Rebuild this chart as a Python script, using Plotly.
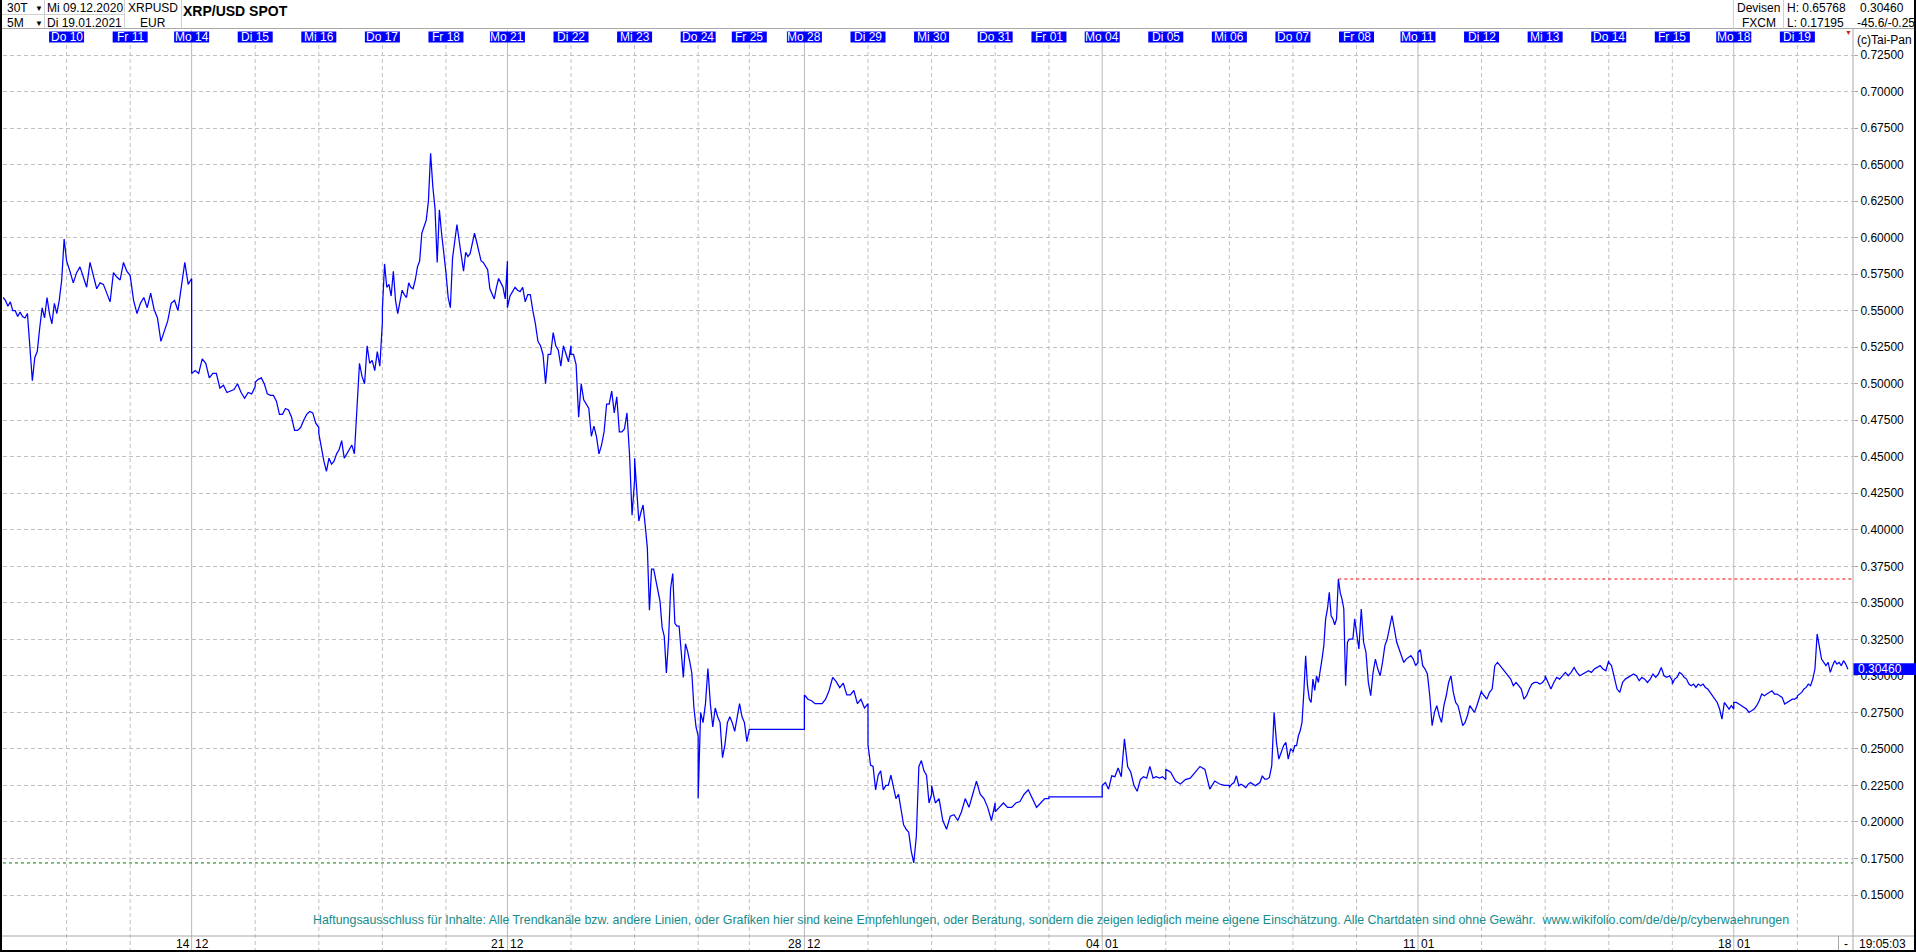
import plotly.graph_objects as go

# ---------------- data ----------------
day_names = ["Mi", "Do", "Fr", "Mo", "Di", "Mi", "Do", "Fr", "Mo", "Di", "Mi", "Do", "Fr", "Mo", "Di",
             "Mi", "Do", "Fr", "Mo", "Di", "Mi", "Do", "Fr", "Mo", "Di", "Mi", "Do", "Fr", "Mo", "Di"]
day_dates = ["09.12", "10.12", "11.12", "14.12", "15.12", "16.12", "17.12", "18.12", "21.12", "22.12",
             "23.12", "24.12", "25.12", "28.12", "29.12", "30.12", "31.12", "01.01", "04.01", "05.01",
             "06.01", "07.01", "08.01", "11.01", "12.01", "13.01", "14.01", "15.01", "18.01", "19.01"]
# hours of 5-minute bars in each session (holidays are shorter, last day ends 19:05)
day_hours = [24, 24, 23.2, 24, 24, 24, 24, 23.2, 24, 24, 24, 19.3, 20.8, 24, 24,
             24, 20.3, 20.1, 24, 24, 24, 24, 23.2, 24, 24, 24, 24, 23.2, 24, 19.08]

p_0912 = [0.559, 0.557, 0.553, 0.556, 0.550, 0.550, 0.546, 0.549, 0.546, 0.545, 0.548, 0.527, 0.502,
          0.518, 0.522, 0.538, 0.552, 0.545, 0.559, 0.548, 0.541, 0.555, 0.548, 0.557, 0.571, 0.599, 0.584]
p_1012 = [0.584, 0.577, 0.569, 0.576, 0.580, 0.573, 0.566, 0.583, 0.573, 0.565, 0.569, 0.568, 0.562,
          0.556, 0.576, 0.573, 0.571, 0.583, 0.577, 0.574]
p_1112 = [0.574, 0.557, 0.548, 0.555, 0.559, 0.552, 0.562, 0.551, 0.545, 0.529, 0.536, 0.543, 0.555,
          0.557, 0.550, 0.566, 0.583, 0.568, 0.572]
p_1412 = [0.507, 0.509, 0.507, 0.517, 0.514, 0.504, 0.507, 0.507, 0.497, 0.499, 0.494, 0.495, 0.496,
          0.500, 0.494, 0.490, 0.494, 0.493, 0.498]
p_1512 = [0.501, 0.503, 0.504, 0.500, 0.493, 0.492, 0.492, 0.488, 0.479, 0.479, 0.483, 0.482, 0.477,
          0.468, 0.468, 0.470, 0.475, 0.479, 0.481, 0.480, 0.473, 0.470]
p_1612 = [0.466, 0.456, 0.447, 0.440, 0.449, 0.445, 0.447, 0.452, 0.455, 0.461, 0.449, 0.452, 0.455,
          0.458, 0.452, 0.486, 0.514, 0.505, 0.500, 0.526, 0.514, 0.516, 0.509, 0.522, 0.512, 0.542]
p_1712 = [0.551, 0.582, 0.566, 0.568, 0.560, 0.577, 0.557, 0.548, 0.557, 0.564, 0.561, 0.559, 0.569,
          0.566, 0.565, 0.571, 0.580, 0.584, 0.603, 0.608, 0.612, 0.625, 0.6577, 0.635, 0.620, 0.583,
          0.619, 0.603, 0.591, 0.580]
p_1812 = [0.576, 0.559, 0.552, 0.586, 0.599, 0.609, 0.598, 0.586, 0.577, 0.590, 0.587, 0.589, 0.595,
          0.603, 0.597, 0.591, 0.584, 0.583, 0.580, 0.578, 0.565, 0.562, 0.558, 0.566, 0.572, 0.569,
          0.566, 0.558, 0.584]
p_2112 = [0.552, 0.560, 0.563, 0.566, 0.564, 0.563, 0.566, 0.556, 0.561, 0.561, 0.550, 0.541, 0.529,
          0.526, 0.520, 0.500, 0.520, 0.520, 0.535, 0.526, 0.523, 0.512, 0.526, 0.520, 0.515, 0.526]
p_2212 = [0.520, 0.520, 0.513, 0.477, 0.500, 0.489, 0.486, 0.483, 0.464, 0.471, 0.464, 0.452, 0.458,
          0.467, 0.486, 0.486, 0.495, 0.480, 0.491, 0.467, 0.467, 0.469, 0.480, 0.452, 0.410, 0.434]
p_2312 = [0.449, 0.428, 0.406, 0.412, 0.417, 0.403, 0.388, 0.345, 0.373, 0.373, 0.366, 0.360, 0.351,
          0.333, 0.327, 0.302, 0.324, 0.360, 0.370, 0.336, 0.334, 0.334, 0.317, 0.299, 0.322, 0.317,
          0.310, 0.302, 0.278, 0.265, 0.259]
p_2412 = [0.216, 0.275, 0.268, 0.281, 0.305, 0.281, 0.265, 0.278, 0.272, 0.268, 0.244, 0.253, 0.268,
          0.272, 0.268, 0.262, 0.272, 0.281, 0.272, 0.268, 0.255, 0.263]
p_2512 = [0.2634, 0.2634]
p_2812 = [0.287, 0.284, 0.283, 0.281, 0.281, 0.281, 0.284, 0.290, 0.299, 0.296, 0.292, 0.295, 0.287,
          0.287, 0.290, 0.281, 0.284, 0.278, 0.281]
p_2912 = [0.253, 0.239, 0.238, 0.222, 0.232, 0.235, 0.222, 0.225, 0.225, 0.232, 0.225, 0.216, 0.219,
          0.207, 0.198, 0.195, 0.193, 0.180, 0.17195, 0.190, 0.238, 0.242, 0.235, 0.232, 0.213, 0.219]
p_3012 = [0.225, 0.213, 0.216, 0.201, 0.195, 0.204, 0.205, 0.201, 0.207, 0.216, 0.210, 0.219, 0.228,
          0.219, 0.216, 0.210, 0.201, 0.213]
p_3112 = [0.207, 0.210, 0.213, 0.210, 0.210, 0.213, 0.214, 0.219, 0.222, 0.216, 0.210, 0.213, 0.216, 0.216]
p_0101 = [0.2172, 0.2172]
p_0401 = [0.225, 0.227, 0.2225, 0.2316, 0.231, 0.237, 0.231, 0.257, 0.238, 0.234, 0.225, 0.221, 0.229,
          0.231, 0.230, 0.238, 0.230, 0.231, 0.230, 0.231, 0.229]
p_0501 = [0.236, 0.234, 0.228, 0.226, 0.229, 0.230, 0.234, 0.238, 0.236, 0.2225, 0.228, 0.226, 0.225, 0.225]
p_0601 = [0.2236, 0.2259, 0.227, 0.2316, 0.2248, 0.2259, 0.2248, 0.2236, 0.2259, 0.227, 0.2259, 0.2248,
          0.2259, 0.227, 0.2316, 0.2293, 0.2293, 0.2305, 0.2385, 0.275, 0.2545, 0.243, 0.2476, 0.2522,
          0.2545, 0.243, 0.2499, 0.2487]
p_0701 = [0.2476, 0.2522, 0.2522, 0.259, 0.2624, 0.2681, 0.2887, 0.3138, 0.2933, 0.2841, 0.2818, 0.2978,
          0.290, 0.300, 0.2955, 0.3024, 0.3115, 0.3207, 0.339, 0.3458, 0.3572, 0.3412, 0.339, 0.335,
          0.339, 0.3663, 0.3572, 0.3526, 0.3458, 0.2933, 0.323, 0.3252, 0.3252, 0.3252, 0.339, 0.3321]
p_0801 = [0.3298, 0.3184, 0.3458, 0.323, 0.3161, 0.2955, 0.2864, 0.3024, 0.3115, 0.3047, 0.3001, 0.3092,
          0.3207, 0.3252, 0.3344, 0.3412, 0.3321, 0.323, 0.3184, 0.3138, 0.3092, 0.3115, 0.3127, 0.3138,
          0.3115, 0.307, 0.3092]
p_1101 = [0.3161, 0.3179, 0.307, 0.3047, 0.3013, 0.2864, 0.2659, 0.275, 0.2796, 0.2727, 0.2681, 0.2796,
          0.2864, 0.2955, 0.3001, 0.2887, 0.2818, 0.2796, 0.2727, 0.2659, 0.2681, 0.2727, 0.2796, 0.2773,
          0.275, 0.2796, 0.2841, 0.2898]
p_1201 = [0.2887, 0.2864, 0.2841, 0.2887, 0.291, 0.307, 0.3092, 0.307, 0.3047, 0.3024, 0.3001, 0.2978,
          0.2933, 0.2955, 0.2933, 0.291, 0.2841, 0.2864, 0.291, 0.2944, 0.2955, 0.2955, 0.2944, 0.2955, 0.2978]
p_1301 = [0.3001, 0.2955, 0.291, 0.2955, 0.299, 0.2978, 0.3001, 0.3024, 0.3001, 0.3024, 0.3058, 0.3024,
          0.3001, 0.3013, 0.3024, 0.3035, 0.3024, 0.3047, 0.3058, 0.307, 0.3047, 0.3035, 0.3104]
p_1401 = [0.3092, 0.307, 0.2978, 0.291, 0.2887, 0.2955, 0.2978, 0.299, 0.3001, 0.3013, 0.3001, 0.2967,
          0.299, 0.2978, 0.2955, 0.2978, 0.3013, 0.299, 0.3013, 0.3058, 0.3001, 0.299, 0.3001, 0.2967]
p_1501 = [0.2944, 0.2978, 0.299, 0.3024, 0.3013, 0.299, 0.2978, 0.2944, 0.2933, 0.2944, 0.2921, 0.2944,
          0.2933, 0.2944, 0.2921, 0.291, 0.2887, 0.2864, 0.2841, 0.2818, 0.2773, 0.2704, 0.2818, 0.2796,
          0.2773, 0.2796, 0.2773]
p_1801 = [0.2818, 0.2818, 0.2807, 0.2796, 0.2784, 0.2773, 0.275, 0.2761, 0.2773, 0.2796, 0.283, 0.2876,
          0.2864, 0.2876, 0.2887, 0.2898, 0.2876, 0.2876, 0.2864, 0.2853, 0.2807, 0.2818, 0.283, 0.2841,
          0.2841, 0.2853]
p_1901 = [0.2864, 0.2876, 0.2887, 0.291, 0.2921, 0.2944, 0.2933, 0.2978, 0.3047, 0.3287, 0.3184, 0.3115,
          0.3092, 0.307, 0.3092, 0.3024, 0.307, 0.3104, 0.3081, 0.3092, 0.307, 0.3104, 0.3081, 0.3046]

y_ticks = [0.150, 0.175, 0.200, 0.225, 0.250, 0.275, 0.300, 0.325, 0.350, 0.375, 0.400, 0.425,
           0.450, 0.475, 0.500, 0.525, 0.550, 0.575, 0.600, 0.625, 0.650, 0.675, 0.700, 0.725]

header_high = 0.65768
header_low = 0.17195
change_text = "-45.6/-0.25"
last_time = "19:05:03"
title_text = "XRP/USD SPOT"
disclaimer = ("Haftungsausschluss für Inhalte: Alle Trendkanäle bzw. andere Linien, oder Grafiken hier sind "
              "keine Empfehlungen, oder Beratung, sondern die zeigen lediglich meine eigene Einschätzung. "
              "Alle Chartdaten sind ohne Gewähr.  www.wikifolio.com/de/de/p/cyberwaehrungen")

day_prices = [p_0912, p_1012, p_1112, p_1412, p_1512, p_1612, p_1712, p_1812, p_2112, p_2212,
              p_2312, p_2412, p_2512, p_2812, p_2912, p_3012, p_3112, p_0101, p_0401, p_0501,
              p_0601, p_0701, p_0801, p_1101, p_1201, p_1301, p_1401, p_1501, p_1801, p_1901]

# ---------------- build series on a session-hour axis ----------------
xs, ys, starts = [], [], []
t = 0.0
for hours, vals in zip(day_hours, day_prices):
    starts.append(t)
    n = len(vals)
    for i, v in enumerate(vals):
        xs.append(t + hours * i / (n - 1))
        ys.append(v)
    t += hours

# ---------------- layout geometry ----------------
W, H = 1916, 952
L, R, T, B = 3, 63, 30, 16
PW, PH = W - L - R, H - T - B
X_END = 698.3
Y_LO, Y_HI = 0.12195, 0.74211
HPP = X_END / PW  # hours per pixel

def fx(p):
    return (p - L) / PW

def fy(p):
    return (H - B - p) / PH

FONT = "Liberation Sans, Arial, sans-serif"
GRID = "#c0c0c0"
LINEC = "#a8a8a8"
BLUE = "#0000ff"

fig = go.Figure()
fig.add_trace(go.Scatter(x=xs, y=ys, mode="lines", line=dict(color=BLUE, width=1.25),
                         hoverinfo="skip", showlegend=False))

shapes = []
ann = []

# vertical day separators
for i in range(1, len(starts)):
    monday = day_names[i] == "Mo"
    shapes.append(dict(type="line", xref="x", yref="paper", x0=starts[i], x1=starts[i],
                       y0=fy(H), y1=1, layer="below",
                       line=dict(color="#b8b8b8" if monday else GRID, width=1,
                                 dash="solid" if monday else "4px,3px")))

# low line (green) and Jan-07 high line (red)
shapes.append(dict(type="line", xref="paper", yref="y", x0=0, x1=1, y0=header_low, y1=header_low,
                   line=dict(color="#008000", width=1, dash="3px,3px")))
k0701 = day_dates.index("07.01")
j = max(range(len(p_0701)), key=lambda i: p_0701[i])
x_peak = starts[k0701] + day_hours[k0701] * j / (len(p_0701) - 1)
shapes.append(dict(type="line", xref="x", yref="y", x0=x_peak, x1=X_END, y0=p_0701[j], y1=p_0701[j],
                   line=dict(color="#ff0000", width=1, dash="3px,3px")))

# frame / header lines
def hline(yp, x0p, x1p, color=LINEC, w=1):
    shapes.append(dict(type="line", xref="paper", yref="paper", x0=fx(x0p), x1=fx(x1p),
                       y0=fy(yp), y1=fy(yp), line=dict(color=color, width=w)))

def vline(xp, y0p, y1p, color=LINEC, w=1):
    shapes.append(dict(type="line", xref="paper", yref="paper", x0=fx(xp), x1=fx(xp),
                       y0=fy(y0p), y1=fy(y1p), line=dict(color=color, width=w)))

hline(28.5, 0, W)          # header bottom
hline(936, 0, W)           # x-axis line
vline(1853, 28.5, H)       # price axis line
vline(1838.5, 936, H)      # bottom right cell
# header cells
hline(14.5, 0, 124.5, color="#d0d0d0")
vline(44.5, 0, 28.5, color="#d0d0d0")
vline(124.5, 0, 28.5, color="#d0d0d0")
vline(181.5, 0, 28.5, color="#d0d0d0")
vline(1733.5, 0, 28.5, color="#d0d0d0")
vline(1783.5, 0, 28.5, color="#d0d0d0")
# black window border
vline(1, 0, H, color="black", w=2)
vline(1915, 0, H, color="black", w=2)
hline(951, 0, W, color="black", w=2)

# day label boxes
half = 17.5 * HPP
for i in range(1, len(starts)):
    shapes.append(dict(type="rect", xref="x", yref="paper", x0=starts[i] - half, x1=starts[i] + half,
                       y0=fy(42.5), y1=fy(31.5), fillcolor=BLUE, line=dict(width=0), layer="above"))
    ann.append(dict(x=starts[i], y=fy(37.2), xref="x", yref="paper", text=f"{day_names[i]} {day_dates[i][:2]}",
                    showarrow=False, xanchor="center", yanchor="middle",
                    font=dict(family=FONT, size=12, color="white")))

# week labels at bottom
for i in range(len(starts)):
    if day_names[i] == "Mo":
        dd, mm = day_dates[i].split(".")
        ann.append(dict(x=starts[i], y=fy(944), xref="x", yref="paper", text=dd, showarrow=False,
                        xanchor="right", yanchor="middle", xshift=0,
                        font=dict(family=FONT, size=12, color="black")))
        ann.append(dict(x=starts[i], y=fy(944), xref="x", yref="paper", text=mm, showarrow=False,
                        xanchor="left", yanchor="middle", xshift=1,
                        font=dict(family=FONT, size=12, color="black")))

# last price box
last = ys[-1]
half_y = 5.8 / PH * (Y_HI - Y_LO)
shapes.append(dict(type="rect", xref="paper", yref="y", x0=fx(1853.5), x1=fx(W), y0=last - half_y,
                   y1=last + half_y, fillcolor=BLUE, line=dict(width=0), layer="above"))

def txt(xp, yp, s, size=12, color="black", anchor="left", bold=False):
    ann.append(dict(x=fx(xp), y=fy(yp), xref="paper", yref="paper",
                    text=f"<b>{s}</b>" if bold else s, showarrow=False,
                    xanchor=anchor, yanchor="middle", borderpad=0,
                    font=dict(family=FONT, size=size, color=color)))

txt(1857, 669, f"{last:.5f}", color="white")
# header texts
txt(6, 8, "30T")
txt(6, 23, "5M")
txt(38.5, 8, "▼", size=8, anchor="center")
txt(38.5, 23, "▼", size=8, anchor="center")
txt(46, 8, "Mi 09.12.2020")
txt(46, 23, "Di 19.01.2021")
txt(152.5, 8, "XRPUSD", anchor="center")
txt(152.5, 23, "EUR", anchor="center")
txt(182, 11, title_text, size=14, bold=True)
txt(1758.5, 8, "Devisen", anchor="center")
txt(1758.5, 23, "FXCM", anchor="center")
txt(1786, 8, f"H: {header_high:.5f}")
txt(1786, 23, f"L: {header_low:.5f}")
txt(1859, 8, f"{last:.5f}")
txt(1856, 23, change_text)
txt(1856, 40, "(c)Tai-Pan")
txt(1848, 32, "▼", size=7, color="#cc2222", anchor="center")
txt(1845.5, 944, "-", anchor="center")
txt(1858, 944, last_time)
txt(1051, 920, disclaimer, size=12.4, color="#168c8c", anchor="center")

fig.update_layout(
    width=W, height=H,
    margin=dict(l=L, r=R, t=T, b=B, pad=0),
    paper_bgcolor="white", plot_bgcolor="white",
    showlegend=False,
    xaxis=dict(range=[0, X_END], showgrid=False, zeroline=False, showticklabels=False,
               showline=False, ticks="", fixedrange=True),
    yaxis=dict(range=[Y_LO, Y_HI], side="right", tickvals=y_ticks,
               ticktext=[f"{v:.5f}" for v in y_ticks], showgrid=True, gridcolor=GRID,
               griddash="4px,3px", gridwidth=1, zeroline=False, showline=False,
               ticks="outside", ticklen=4, tickcolor=LINEC, automargin=False,
               tickfont=dict(family=FONT, size=12, color="black"), fixedrange=True),
    shapes=shapes,
    annotations=ann,
)

fig.write_html("out.html", config={"displayModeBar": False},
               post_script="document.body.style.margin='0';document.documentElement.style.overflow='hidden';")
